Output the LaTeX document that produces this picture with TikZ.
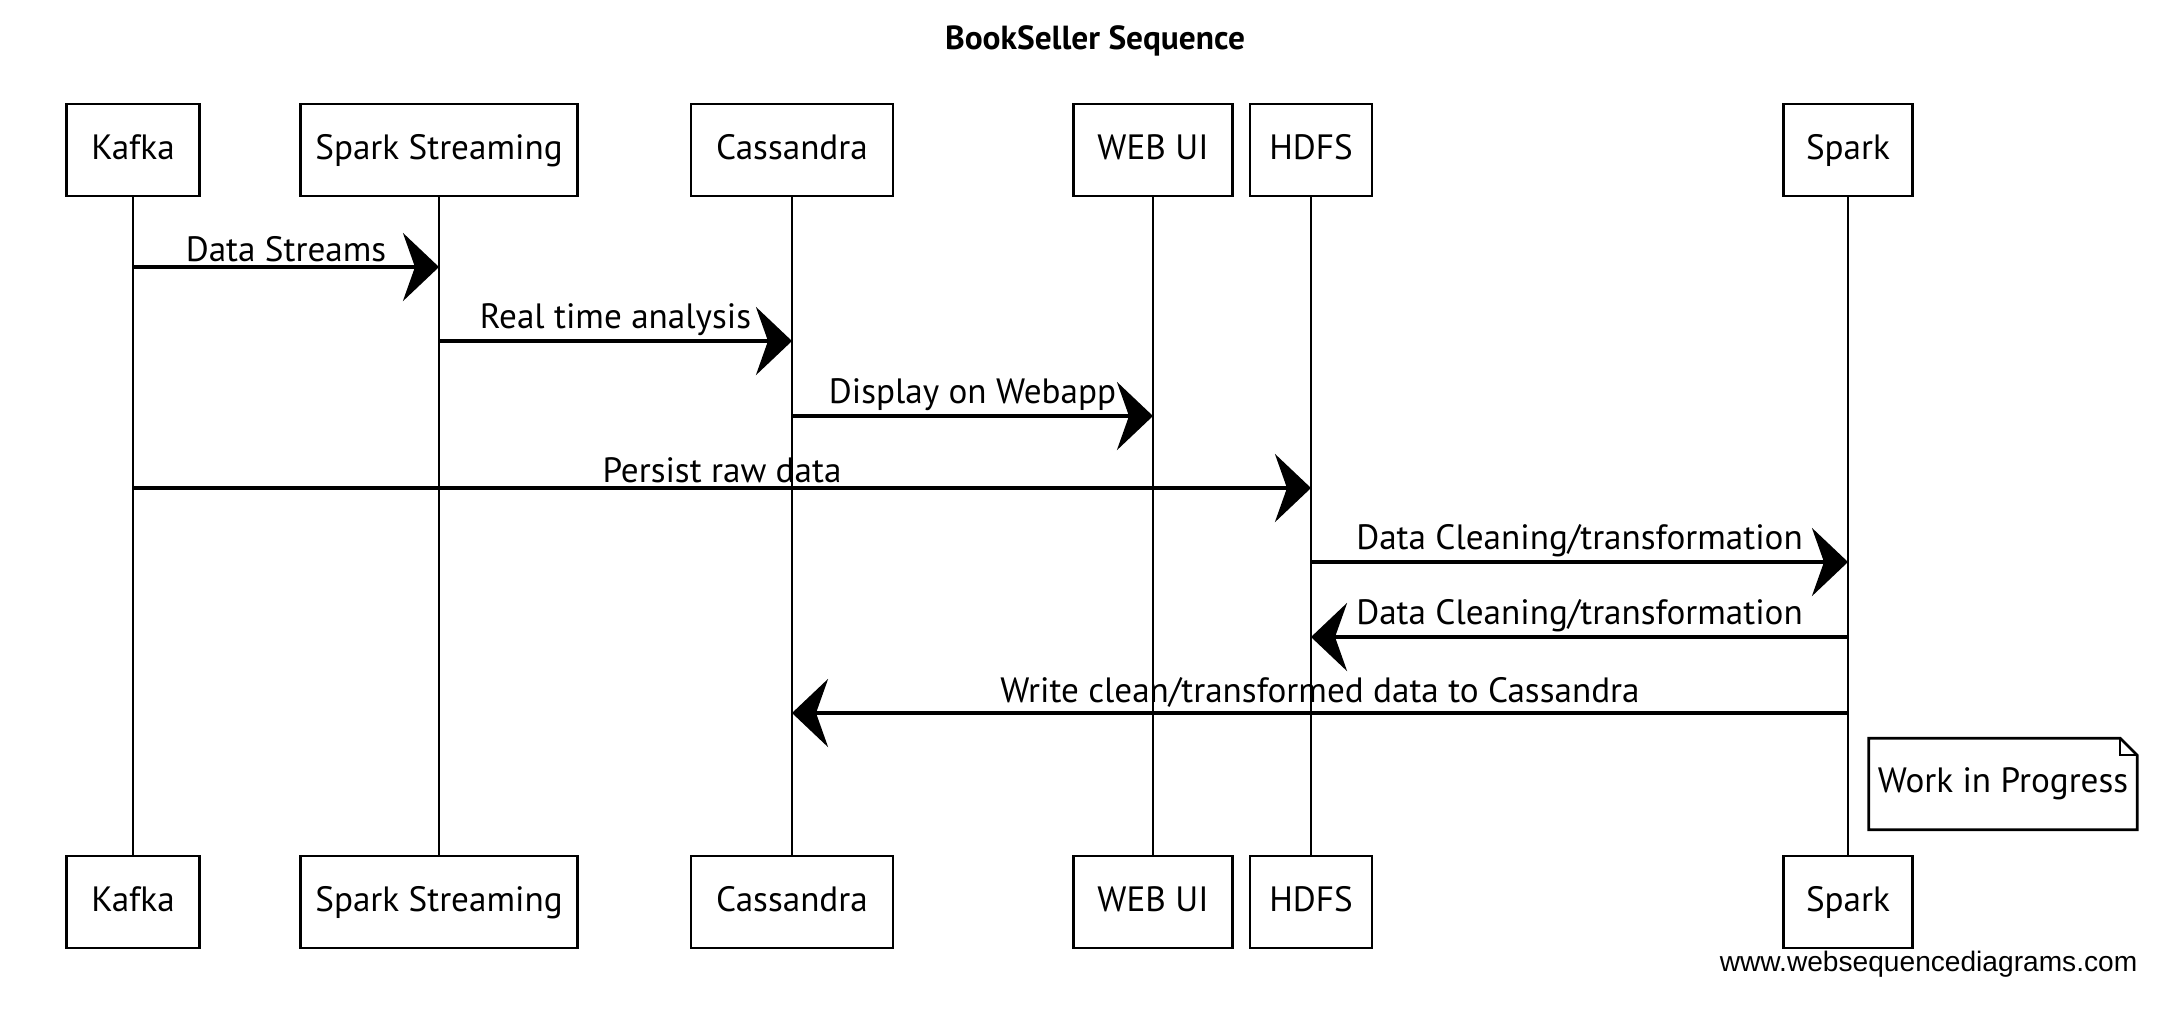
\documentclass[tikz,border=0pt]{standalone}
\usepackage{fontspec}
\setmainfont{PT Sans}
\newfontfamily\wsdfont{Liberation Sans}
\usetikzlibrary{arrows.meta}

\begin{document}
\begin{tikzpicture}[x=0.01cm, y=-0.01cm]
	\tikzstyle{actor}=[draw, line width=0.8pt, minimum height=0.92cm, inner sep=0pt, text height=0.75em, text depth=0.22em, font=\fontsize{10}{12}\selectfont]
	\tikzstyle{lifeline}=[line width=0.45pt]
	\tikzstyle{msg}=[line width=1.1pt, -{Stealth[length=0.36cm, width=0.68cm, inset=0.12cm]}]
	\tikzstyle{msglabel}=[midway, above=0pt, inner sep=1pt, font=\fontsize{10}{12}\selectfont]
	
	\useasboundingbox (0,0) rectangle (2166,1026);
	
	\node[font=\bfseries\fontsize{9.5}{11}\selectfont] (Title) at (1095,41) {BookSeller Sequence};
	
	% participants, top row
	\node[actor, minimum width=1.33cm] (Kafka-top) at (133,150) {Kafka};
	\node[actor, minimum width=2.77cm] (Streaming-top) at (439,150) {Spark Streaming};
	\node[actor, minimum width=2.02cm] (Cassandra-top) at (792,150) {Cassandra};
	\node[actor, minimum width=1.59cm] (WebUI-top) at (1153,150) {WEB UI};
	\node[actor, minimum width=1.22cm] (HDFS-top) at (1311,150) {HDFS};
	\node[actor, minimum width=1.29cm] (Spark-top) at (1848,150) {Spark};
	
	% participants, bottom row
	\node[actor, minimum width=1.33cm] (Kafka-bot) at (133,902) {Kafka};
	\node[actor, minimum width=2.77cm] (Streaming-bot) at (439,902) {Spark Streaming};
	\node[actor, minimum width=2.02cm] (Cassandra-bot) at (792,902) {Cassandra};
	\node[actor, minimum width=1.59cm] (WebUI-bot) at (1153,902) {WEB UI};
	\node[actor, minimum width=1.22cm] (HDFS-bot) at (1311,902) {HDFS};
	\node[actor, minimum width=1.29cm] (Spark-bot) at (1848,902) {Spark};
	
	\draw[lifeline] (Kafka-top) -- (Kafka-bot);
	\draw[lifeline] (Streaming-top) -- (Streaming-bot);
	\draw[lifeline] (Cassandra-top) -- (Cassandra-bot);
	\draw[lifeline] (WebUI-top) -- (WebUI-bot);
	\draw[lifeline] (HDFS-top) -- (HDFS-bot);
	\draw[lifeline] (Spark-top) -- (Spark-bot);
	
	% message end points on the lifelines
	\coordinate (Msg-1a) at (Kafka-top |- 0,267);
	\coordinate (Msg-1b) at (Streaming-top |- 0,267);
	\coordinate (Msg-2a) at (Streaming-top |- 0,341);
	\coordinate (Msg-2b) at (Cassandra-top |- 0,341);
	\coordinate (Msg-3a) at (Cassandra-top |- 0,416);
	\coordinate (Msg-3b) at (WebUI-top |- 0,416);
	\coordinate (Msg-4a) at (Kafka-top |- 0,488);
	\coordinate (Msg-4b) at (HDFS-top |- 0,488);
	\coordinate (Msg-5a) at (HDFS-top |- 0,562);
	\coordinate (Msg-5b) at (Spark-top |- 0,562);
	\coordinate (Msg-6a) at (Spark-top |- 0,637);
	\coordinate (Msg-6b) at (HDFS-top |- 0,637);
	\coordinate (Msg-7a) at (Spark-top |- 0,713);
	\coordinate (Msg-7b) at (Cassandra-top |- 0,713);
	
	\draw[msg] (Msg-1a) -- node[msglabel] {Data Streams} (Msg-1b);
	\draw[msg] (Msg-2a) -- node[msglabel] {Real time analysis} (Msg-2b);
	\draw[msg] (Msg-3a) -- node[msglabel] {Display on Webapp} (Msg-3b);
	\draw[msg] (Msg-4a) -- node[msglabel] {Persist raw data} (Msg-4b);
	\draw[msg] (Msg-5a) -- node[msglabel] {Data Cleaning/transformation} (Msg-5b);
	\draw[msg] (Msg-6a) -- node[msglabel] {Data Cleaning/transformation} (Msg-6b);
	\draw[msg] (Msg-7a) -- node[msglabel] {Write clean/transformed data to Cassandra} (Msg-7b);
	
	% note with folded corner
	\node[minimum width=2.67cm, minimum height=0.9cm, inner sep=0pt, font=\fontsize{10}{12}\selectfont] (Note) at (2003,784) {Work in Progress};
	\draw[line width=0.8pt] (Note.north west) -- ([xshift=-0.17cm]Note.north east) -- ([yshift=-0.17cm]Note.north east) -- (Note.south east) -- (Note.south west) -- cycle;
	\draw[line width=0.5pt] ([xshift=-0.17cm]Note.north east) |- ([yshift=-0.17cm]Note.north east);
	
	\node[anchor=east, inner sep=0pt, font=\wsdfont\fontsize{8}{10}\selectfont] (Watermark) at (2138,964) {www.websequencediagrams.com};
\end{tikzpicture}
\end{document}
